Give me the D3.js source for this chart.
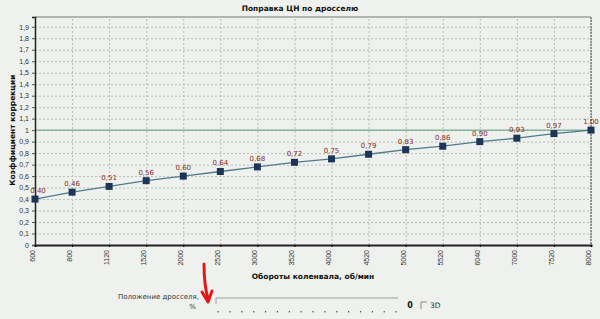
<!DOCTYPE html>
<html>
<head>
<meta charset="utf-8">
<script src="https://cdn.jsdelivr.net/npm/d3@7"></script>
<style>
  body { margin: 0; background: #eef1ee; }
  svg { display: block; font-family: "DejaVu Sans", Verdana, sans-serif; }
  .grid line { stroke: #b8bcb8; stroke-dasharray: 2,2; }
  .grid path { display: none; }
</style>
</head>
<body>
<div id="chart"></div>
<script>
var rpm = ["600", "800", "1120", "1520", "2000", "2520", "3000", "3520", "4000", "4520", "5000", "5520", "6040", "7000", "7520", "8000"];
var coef = [0.40, 0.46, 0.51, 0.56, 0.60, 0.64, 0.68, 0.72, 0.75, 0.79, 0.83, 0.86, 0.90, 0.93, 0.97, 1.00];
var yTicks = [0, 0.1, 0.2, 0.3, 0.4, 0.5, 0.6, 0.7, 0.8, 0.9, 1, 1.1, 1.2, 1.3, 1.4, 1.5, 1.6, 1.7, 1.8, 1.9];
var refLine = 1;

function init(){
    var w = 600;
    var h = 319;
    var left = 35, right = 591, top = 17, bottom = 245;

    var dataset = rpm.map(function(r, i){ return {rpm: r, k: coef[i]}; });

    var svg = d3.select("#chart")
    .append("svg")
    .attr("width", w)
    .attr("height", h);

    svg.append("rect").attr("width", w).attr("height", h).attr("fill", "#eef1ee");

    var xScale = d3.scalePoint()
      .domain(rpm)
      .range([left, right]);

    var yScale = d3.scaleLinear()
      .domain([0, 1.985])
      .range([bottom, top]);

    // grid
    svg.append("g")
      .attr("class", "grid")
      .attr("transform", "translate(0," + bottom + ")")
      .call(d3.axisBottom(xScale).tickSize(-(bottom - top)).tickFormat(""));

    svg.append("g")
      .attr("class", "grid")
      .attr("transform", "translate(" + left + ",0)")
      .call(d3.axisLeft(yScale).tickValues(yTicks.slice(1)).tickSize(-(right - left)).tickFormat(""));

    // plot frame
    svg.append("line").attr("x1", left).attr("x2", right).attr("y1", top).attr("y2", top)
      .attr("stroke", "#777").attr("stroke-width", 1);
    svg.append("line").attr("x1", right).attr("x2", right).attr("y1", top).attr("y2", bottom)
      .attr("stroke", "#777").attr("stroke-width", 1.5).attr("stroke-dasharray", "2,1");

    // reference line at 1
    svg.append("line")
      .attr("x1", left).attr("x2", right)
      .attr("y1", yScale(refLine)).attr("y2", yScale(refLine))
      .attr("stroke", "#5f9b78").attr("stroke-width", 1);

    // axes
    var yAxis = d3.axisLeft(yScale).tickValues(yTicks).tickSize(3)
      .tickFormat(function(d){ return d3.format(".1~f")(d).replace(".", ","); });
    var gy = svg.append("g")
      .attr("transform", "translate(" + left + ",0)")
      .call(yAxis);
    gy.select(".domain").attr("stroke", "#222").attr("stroke-width", 1.5);
    gy.selectAll("text").style("font-size", "7px").attr("fill", "#333");
    gy.selectAll(".tick line").attr("stroke", "#555");

    var xAxis = d3.axisBottom(xScale).tickSize(2);
    var gx = svg.append("g")
      .attr("transform", "translate(0," + bottom + ")")
      .call(xAxis);
    gx.select(".domain").attr("stroke", "#222").attr("stroke-width", 2);
    gx.selectAll("text")
      .style("font-size", "7px").attr("fill", "#333")
      .attr("transform", "rotate(-90)")
      .attr("text-anchor", "end")
      .attr("x", -5).attr("y", -3)
      .attr("dy", "0.35em");

    // series
    var line = d3.line()
      .x(function(d){ return xScale(d.rpm); })
      .y(function(d){ return yScale(d.k); });

    svg.append("path")
      .datum(dataset)
      .attr("fill", "none")
      .attr("stroke", "#4f7a8c")
      .attr("stroke-width", 1.3)
      .attr("d", line);

    svg.selectAll(".pt")
      .data(dataset)
      .enter().append("rect")
      .attr("x", function(d){ return xScale(d.rpm) - 3.5; })
      .attr("y", function(d){ return yScale(d.k) - 3.5; })
      .attr("width", 7).attr("height", 7)
      .attr("fill", "#1d3556");

    // first label sits against the y axis, nudge it right a bit
    svg.selectAll(".lbl")
      .data(dataset)
      .enter().append("text")
      .attr("x", function(d, i){ return xScale(d.rpm) + (i === 0 ? 3 : 0); })
      .attr("y", function(d){ return yScale(d.k) - 6; })
      .attr("text-anchor", "middle")
      .style("font-size", "7px")
      .attr("fill", "#8a2a22")
      .text(function(d){ return d.k.toFixed(2).replace(".", ","); });

    // titles
    svg.append("text").attr("x", 300).attr("y", 11).attr("text-anchor", "middle")
      .style("font-size", "7.5px").style("font-weight", "bold").attr("fill", "#111")
      .text("Поправка ЦН по дросселю");
    svg.append("text").attr("transform", "translate(15," + yScale(1) + ") rotate(-90)")
      .attr("text-anchor", "middle")
      .style("font-size", "7.5px").style("font-weight", "bold").attr("fill", "#111")
      .text("Коэффициент коррекции");
    svg.append("text").attr("x", 313).attr("y", 279).attr("text-anchor", "middle")
      .style("font-size", "7.5px").style("font-weight", "bold").attr("fill", "#111")
      .text("Обороты коленвала, об/мин");

    controls();
  }

  function controls(){
    var svg = d3.select("#chart svg");
    svg.append("text").attr("x", 199).attr("y", 299).attr("text-anchor", "end")
      .style("font-size", "7px").attr("fill", "#333").text("Положение дросселя,");
    svg.append("text").attr("x", 196).attr("y", 309).attr("text-anchor", "end")
      .style("font-size", "7px").attr("fill", "#333").text("%");

    var slider = d3.scaleLinear().domain([0, 15]).range([218, 396]);
    svg.append("path").attr("d", "M216,304 L216,298 L398,298")
      .attr("fill", "none").attr("stroke", "#9aa09a").attr("stroke-width", 1);
    svg.append("g").selectAll("rect")
      .data(d3.range(16))
      .enter().append("rect")
      .attr("x", function(d){ return slider(d) - 0.5; })
      .attr("y", 311).attr("width", 1.2).attr("height", 1.5).attr("fill", "#555");

    svg.append("text").attr("x", 410).attr("y", 308).attr("text-anchor", "middle")
      .style("font-size", "8px").style("font-weight", "bold").attr("fill", "#111").text("0");
    svg.append("path").attr("d", "M421,309 L421,302 L427,302")
      .attr("fill", "none").attr("stroke", "#888").attr("stroke-width", 1);
    svg.append("text").attr("x", 430).attr("y", 308)
      .style("font-size", "7.5px").attr("fill", "#333").text("3D");

    // red hand-drawn arrow
    svg.append("path").attr("d", "M204,264 C204,275 205,288 208,299")
      .attr("fill", "none").attr("stroke", "#e01818").attr("stroke-width", 3).attr("stroke-linecap", "round");
    svg.append("path").attr("d", "M202,292 L208,302 L212,291")
      .attr("fill", "none").attr("stroke", "#e01818").attr("stroke-width", 3)
      .attr("stroke-linecap", "round").attr("stroke-linejoin", "round");
  }

window.onload = init;
</script>
</body>
</html>
